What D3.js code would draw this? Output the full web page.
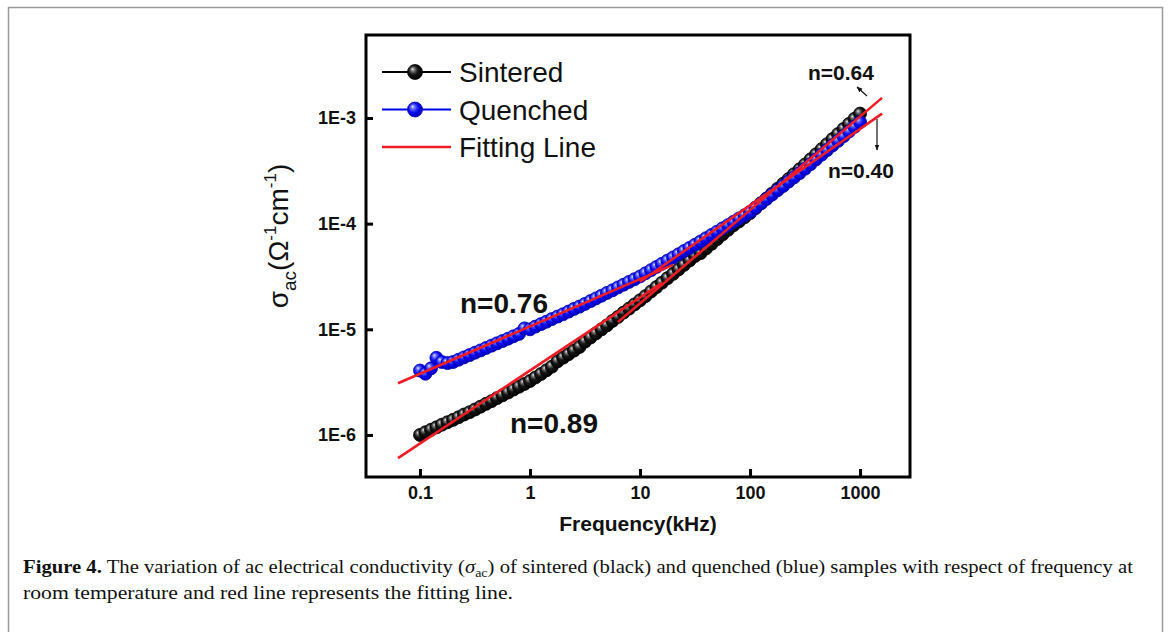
<!DOCTYPE html>
<html>
<head>
<meta charset="utf-8">
<script src="https://cdn.jsdelivr.net/npm/d3@7"></script>
<style>
  body { margin: 0; background: #fff; }
  svg { display: block; }
</style>
</head>
<body>
<div id="d3-container"></div>
<script>
/**
 * DATA
 * frequency in kHz, conductivity in ohm^-1 cm^-1
 * */
const freq = [
  0.1, 0.112, 0.126, 0.141, 0.158, 0.178, 0.2, 0.224, 0.251, 0.282,
  0.316, 0.355, 0.398, 0.447, 0.501, 0.562, 0.631, 0.708, 0.794, 0.891,
  1, 1.12, 1.26, 1.41, 1.58, 1.78, 2, 2.24, 2.51, 2.82,
  3.16, 3.55, 3.98, 4.47, 5.01, 5.62, 6.31, 7.08, 7.94, 8.91,
  10, 11.2, 12.6, 14.1, 15.8, 17.8, 20, 22.4, 25.1, 28.2,
  31.6, 35.5, 39.8, 44.7, 50.1, 56.2, 63.1, 70.8, 79.4, 89.1,
  100, 112, 126, 141, 158, 178, 200, 224, 251, 282,
  316, 355, 398, 447, 501, 562, 631, 708, 794, 891,
  1000
];

const sintered = [
  1.00e-6, 1.06e-6, 1.12e-6, 1.18e-6, 1.25e-6, 1.32e-6, 1.39e-6, 1.47e-6, 1.56e-6, 1.64e-6,
  1.74e-6, 1.85e-6, 1.97e-6, 2.09e-6, 2.23e-6, 2.37e-6, 2.52e-6, 2.69e-6, 2.86e-6, 3.04e-6,
  3.24e-6, 3.50e-6, 3.78e-6, 4.09e-6, 4.43e-6, 4.98e-6, 5.39e-6, 5.82e-6, 6.29e-6, 6.81e-6,
  7.65e-6, 8.36e-6, 9.15e-6, 1.00e-5, 1.09e-5, 1.20e-5, 1.31e-5, 1.44e-5, 1.57e-5, 1.72e-5,
  1.88e-5, 2.06e-5, 2.28e-5, 2.51e-5, 2.76e-5, 3.05e-5, 3.35e-5, 3.69e-5, 4.07e-5, 4.48e-5,
  4.94e-5, 5.26e-5, 5.82e-5, 6.44e-5, 7.12e-5, 7.89e-5, 8.73e-5, 9.66e-5, 1.05e-4, 1.15e-4,
  1.26e-4, 1.40e-4, 1.56e-4, 1.73e-4, 1.92e-4, 2.14e-4, 2.38e-4, 2.64e-4, 2.94e-4, 3.27e-4,
  3.63e-4, 4.06e-4, 4.53e-4, 5.06e-4, 5.65e-4, 6.31e-4, 7.05e-4, 7.87e-4, 8.79e-4, 9.82e-4,
  1.10e-3
];

const quenched = [
  4.07e-6, 3.80e-6, 4.27e-6, 5.37e-6, 4.90e-6, 4.79e-6, 4.90e-6, 5.15e-6, 5.42e-6, 5.70e-6,
  6.00e-6, 6.31e-6, 6.65e-6, 7.00e-6, 7.36e-6, 7.74e-6, 8.15e-6, 8.59e-6, 9.04e-6, 1.02e-5,
  1.00e-5, 1.06e-5, 1.12e-5, 1.18e-5, 1.25e-5, 1.32e-5, 1.39e-5, 1.47e-5, 1.56e-5, 1.64e-5,
  1.74e-5, 1.85e-5, 1.96e-5, 2.08e-5, 2.21e-5, 2.34e-5, 2.49e-5, 2.64e-5, 2.81e-5, 2.98e-5,
  3.16e-5, 3.39e-5, 3.63e-5, 3.89e-5, 4.17e-5, 4.47e-5, 4.79e-5, 5.13e-5, 5.50e-5, 5.89e-5,
  6.31e-5, 6.78e-5, 7.28e-5, 7.82e-5, 8.39e-5, 9.02e-5, 9.68e-5, 1.04e-4, 1.12e-4, 1.20e-4,
  1.29e-4, 1.42e-4, 1.56e-4, 1.71e-4, 1.88e-4, 2.07e-4, 2.27e-4, 2.50e-4, 2.74e-4, 3.01e-4,
  3.31e-4, 3.66e-4, 4.06e-4, 4.49e-4, 4.97e-4, 5.50e-4, 6.08e-4, 6.73e-4, 7.45e-4, 8.24e-4,
  9.12e-4
];

// fitted power-law segments: [f start, f end], [sigma start, sigma end]
const fitFreq = [[0.0631, 15.85], [0.0631, 19.95], [6.31, 1585], [10, 1585]];
const fitSigma = [[6.03e-7, 2.75e-5], [3.09e-6, 4.07e-5], [1.17e-5, 1.55e-3], [2.82e-5, 1.10e-3]];

const xTicks = [0.1, 1, 10, 100, 1000];
const yTicks = [1e-6, 1e-5, 1e-4, 1e-3];
const legendItems = ["Sintered", "Quenched", "Fitting Line"];

/**
 * CONSTANTS
 * */
const width = 1168, height = 632;
const plot = { left: 366, top: 35, right: 910, bottom: 477 };
const red = "#ee1c25", blue = "#0000f0";

const svg = d3.select("#d3-container")
  .append("svg")
  .attr("width", width)
  .attr("height", height);

// gradients for the shaded ball markers
const defs = svg.append("defs");
function ball(id, stops) {
  const g = defs.append("radialGradient")
    .attr("id", id)
    .attr("cx", "0.45").attr("cy", "0.45").attr("r", "0.6")
    .attr("fx", "0.33").attr("fy", "0.3");
  stops.forEach(([o, c]) => g.append("stop").attr("offset", o).attr("stop-color", c));
}
ball("gBlack", [[0, "#ececec"], [0.2, "#7a7a7a"], [0.5, "#161616"], [1, "#000"]]);
ball("gBlue", [[0, "#e4e6ff"], [0.22, "#6c72ff"], [0.55, "#0c0cf0"], [1, "#0000b8"]]);

// outer figure frame
svg.append("rect")
  .attr("x", 8.5).attr("y", 7.5)
  .attr("width", 1154).attr("height", 640)
  .attr("fill", "none")
  .attr("stroke", "#9a9a9a")
  .attr("stroke-width", 1.5);

// SCALES
const x = d3.scaleLog().domain([0.0323, 2844]).range([plot.left, plot.right]);
const y = d3.scaleLog().domain([4.0e-7, 6.1e-3]).range([plot.bottom, plot.top]);

// AXES (ticks point inward)
const yAxis = d3.axisLeft(y)
  .tickValues(yTicks)
  .tickSize(-7)
  .tickPadding(10)
  .tickFormat(d => "1E" + Math.round(Math.log10(d)));

const xAxis = d3.axisBottom(x)
  .tickValues(xTicks)
  .tickSize(-8)
  .tickPadding(9)
  .tickFormat(d => String(d));

const gy = svg.append("g")
  .attr("transform", `translate(${plot.left},0)`)
  .call(yAxis);
const gx = svg.append("g")
  .attr("transform", `translate(0,${plot.bottom})`)
  .call(xAxis);

[gx, gy].forEach(g => {
  g.select(".domain").remove();
  g.selectAll(".tick line").attr("stroke", "#000").attr("stroke-width", 3);
  g.selectAll(".tick text")
    .attr("fill", "#111")
    .style("font-family", "'Liberation Sans', Arial, sans-serif")
    .style("font-weight", "bold")
    .style("font-size", "18px");
});

// series data
const rows = freq.map((f, i) => ({ f, s: sintered[i], q: quenched[i] }));

svg.append("g")
  .selectAll("circle")
  .data(rows)
  .join("circle")
  .attr("cx", d => x(d.f))
  .attr("cy", d => y(d.s))
  .attr("r", 6.5)
  .attr("fill", "url(#gBlack)")
  .attr("stroke", "#000")
  .attr("stroke-width", 0.8);

svg.append("g")
  .selectAll("circle")
  .data(rows.filter(d => d.q != null))
  .join("circle")
  .attr("cx", d => x(d.f))
  .attr("cy", d => y(d.q))
  .attr("r", 6.5)
  .attr("fill", "url(#gBlue)")
  .attr("stroke", "#0000b0")
  .attr("stroke-width", 0.8);

// fitting lines
svg.append("g")
  .selectAll("line")
  .data(fitFreq.map((f, i) => ({ f, s: fitSigma[i] })))
  .join("line")
  .attr("x1", d => x(d.f[0]))
  .attr("x2", d => x(d.f[1]))
  .attr("y1", d => y(d.s[0]))
  .attr("y2", d => y(d.s[1]))
  .attr("stroke", red)
  .attr("stroke-width", 2.6);

// plot frame
svg.append("rect")
  .attr("x", plot.left).attr("y", plot.top)
  .attr("width", plot.right - plot.left)
  .attr("height", plot.bottom - plot.top)
  .attr("fill", "none")
  .attr("stroke", "#000")
  .attr("stroke-width", 3);

// LEGEND
const legendColor = d3.scaleOrdinal().domain(legendItems).range(["#000", blue, red]);
const legendFill = d3.scaleOrdinal().domain(legendItems).range(["url(#gBlack)", "url(#gBlue)", "none"]);
const lg = svg.append("g")
  .selectAll("g")
  .data(legendItems)
  .join("g")
  .attr("transform", (d, i) => `translate(382,${72 + i * 37.5})`);
lg.append("line")
  .attr("x1", 0).attr("x2", 69)
  .attr("stroke", d => legendColor(d))
  .attr("stroke-width", d => d === "Fitting Line" ? 2.6 : 2.2);
lg.filter(d => d !== "Fitting Line")
  .append("circle")
  .attr("cx", 33).attr("r", 7.5)
  .attr("fill", d => legendFill(d))
  .attr("stroke", d => d === "Sintered" ? "#000" : "#0000b0")
  .attr("stroke-width", 0.8);
lg.append("text")
  .attr("x", 77).attr("y", 10)
  .style("font-family", "'Liberation Sans', Arial, sans-serif")
  .style("font-size", "28px")
  .attr("fill", "#111")
  .text(d => d);

// AXIS TITLES
svg.append("text")
  .attr("x", (plot.left + plot.right) / 2)
  .attr("y", 531)
  .attr("text-anchor", "middle")
  .style("font-family", "'Liberation Sans', Arial, sans-serif")
  .style("font-weight", "bold")
  .style("font-size", "21px")
  .attr("fill", "#111")
  .text("Frequency(kHz)");

const yt = svg.append("text")
  .attr("transform", "translate(288,236) rotate(-90)")
  .attr("text-anchor", "middle")
  .style("font-family", "'Liberation Sans', Arial, sans-serif")
  .style("font-size", "28px")
  .attr("fill", "#111");
yt.append("tspan").text("σ");
yt.append("tspan").attr("dy", 8).style("font-size", "19px").text("ac");
yt.append("tspan").attr("dy", -8).text("(Ω");
yt.append("tspan").attr("dy", -12).style("font-size", "17px").text("-1");
yt.append("tspan").attr("dy", 12).text("cm");
yt.append("tspan").attr("dy", -12).style("font-size", "17px").text("-1");
yt.append("tspan").attr("dy", 12).text(")");

// n annotations
const notes = [
  { t: "n=0.76", x: 460, y: 313, size: 28 },
  { t: "n=0.89", x: 510, y: 433, size: 28 },
  { t: "n=0.64", x: 808, y: 80, size: 21 },
  { t: "n=0.40", x: 828, y: 178, size: 21 }
];
svg.append("g")
  .selectAll("text")
  .data(notes)
  .join("text")
  .attr("x", d => d.x).attr("y", d => d.y)
  .style("font-family", "'Liberation Sans', Arial, sans-serif")
  .style("font-weight", "bold")
  .style("font-size", d => d.size + "px")
  .attr("fill", "#111")
  .text(d => d.t);

defs.append("marker")
  .attr("id", "arrow")
  .attr("viewBox", "0 0 10 10")
  .attr("refX", 9).attr("refY", 5)
  .attr("markerWidth", 5).attr("markerHeight", 5)
  .attr("orient", "auto")
  .append("path")
  .attr("d", "M0,1 L10,5 L0,9 Z")
  .attr("fill", "#111");

svg.append("line")
  .attr("x1", 867).attr("y1", 96).attr("x2", 857).attr("y2", 87)
  .attr("stroke", "#111").attr("stroke-width", 1.2)
  .attr("marker-end", "url(#arrow)");
svg.append("line")
  .attr("x1", 877).attr("y1", 119).attr("x2", 877).attr("y2", 150)
  .attr("stroke", "#111").attr("stroke-width", 1.2)
  .attr("marker-end", "url(#arrow)");

// CAPTION
const cap = svg.append("g")
  .style("font-family", "'Liberation Serif', 'Times New Roman', serif")
  .style("font-size", "18.5px")
  .attr("fill", "#111");
const l1 = cap.append("text")
  .attr("x", 23).attr("y", 573)
  .attr("textLength", 1110)
  .attr("lengthAdjust", "spacingAndGlyphs");
l1.append("tspan").style("font-weight", "bold").text("Figure 4.");
l1.append("tspan").text(" The variation of ac electrical conductivity (");
l1.append("tspan").style("font-style", "italic").text("σ");
l1.append("tspan").attr("dy", 4).style("font-size", "12.5px").text("ac");
l1.append("tspan").attr("dy", -4).text(") of sintered (black) and quenched (blue) samples with respect of frequency at");
cap.append("text")
  .attr("x", 23).attr("y", 599)
  .attr("textLength", 490)
  .attr("lengthAdjust", "spacingAndGlyphs")
  .text("room temperature and red line represents the fitting line.");
</script>
</body>
</html>
